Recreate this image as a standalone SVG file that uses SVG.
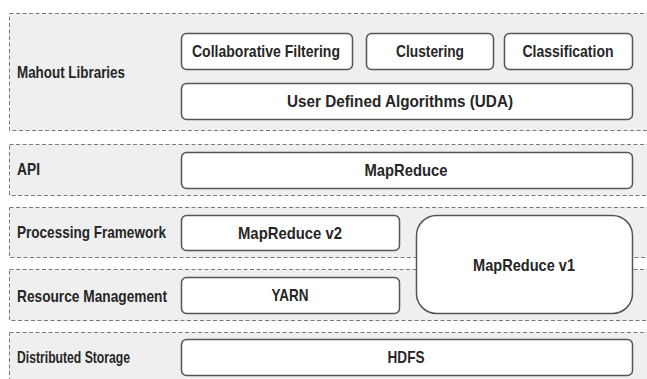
<svg xmlns="http://www.w3.org/2000/svg" width="647" height="379" viewBox="0 0 647 379">
<style>
.layer{fill:#efefef;stroke:#7a7a7a;stroke-width:1;stroke-dasharray:4 2.5}
.box{fill:#fff;stroke:#555;stroke-width:1.5}
text{font-family:"Liberation Sans",Arial,sans-serif;font-size:17px;font-weight:bold;fill:#262626}
.c{text-anchor:middle}
</style>
<rect width="647" height="379" fill="#fff"/>
<g id="layer-mahout"><rect class="layer" x="9.5" y="13.5" width="660" height="117"/><text x="17" y="78" textLength="108" lengthAdjust="spacingAndGlyphs">Mahout Libraries</text></g>
<g id="layer-api"><rect class="layer" x="9.5" y="144.5" width="660" height="51"/><text x="17" y="175" textLength="23" lengthAdjust="spacingAndGlyphs">API</text></g>
<g id="layer-processing"><rect class="layer" x="9.5" y="207.5" width="660" height="50"/><text x="17" y="238" textLength="149" lengthAdjust="spacingAndGlyphs">Processing Framework</text></g>
<g id="layer-resource"><rect class="layer" x="9.5" y="269.5" width="660" height="51"/><text x="17" y="302" textLength="150" lengthAdjust="spacingAndGlyphs">Resource Management</text></g>
<g id="layer-storage"><rect class="layer" x="9.5" y="332.5" width="660" height="60"/><text x="17" y="363" textLength="113" lengthAdjust="spacingAndGlyphs">Distributed Storage</text></g>
<g id="collab"><rect class="box" x="181.5" y="33.5" width="171" height="36" rx="5"/><text class="c" x="266" y="57" textLength="148" lengthAdjust="spacingAndGlyphs">Collaborative Filtering</text></g>
<g id="clustering"><rect class="box" x="366.5" y="33.5" width="127" height="36" rx="5"/><text class="c" x="430" y="57" textLength="68" lengthAdjust="spacingAndGlyphs">Clustering</text></g>
<g id="classification"><rect class="box" x="504.5" y="33.5" width="128" height="36" rx="5"/><text class="c" x="568" y="57" textLength="91" lengthAdjust="spacingAndGlyphs">Classification</text></g>
<g id="uda"><rect class="box" x="181.5" y="83.5" width="451" height="36" rx="5"/><text class="c" x="400" y="107" textLength="226" lengthAdjust="spacingAndGlyphs">User Defined Algorithms (UDA)</text></g>
<g id="mapreduce"><rect class="box" x="181.5" y="152.5" width="451" height="36" rx="5"/><text class="c" x="406" y="176" textLength="83" lengthAdjust="spacingAndGlyphs">MapReduce</text></g>
<g id="mrv2"><rect class="box" x="181.5" y="215.5" width="218" height="35" rx="5"/><text class="c" x="290" y="239" textLength="104" lengthAdjust="spacingAndGlyphs">MapReduce v2</text></g>
<g id="yarn"><rect class="box" x="181.5" y="277.5" width="218" height="36" rx="5"/><text class="c" x="290" y="301" textLength="37" lengthAdjust="spacingAndGlyphs">YARN</text></g>
<g id="mrv1"><rect class="box" x="416.5" y="215.5" width="216" height="98" rx="20"/><text class="c" x="524" y="271" textLength="102" lengthAdjust="spacingAndGlyphs">MapReduce v1</text></g>
<g id="hdfs"><rect class="box" x="181.5" y="339.5" width="451" height="36" rx="5"/><text class="c" x="406" y="363" textLength="37" lengthAdjust="spacingAndGlyphs">HDFS</text></g>
<g id="connectors"/>
</svg>
